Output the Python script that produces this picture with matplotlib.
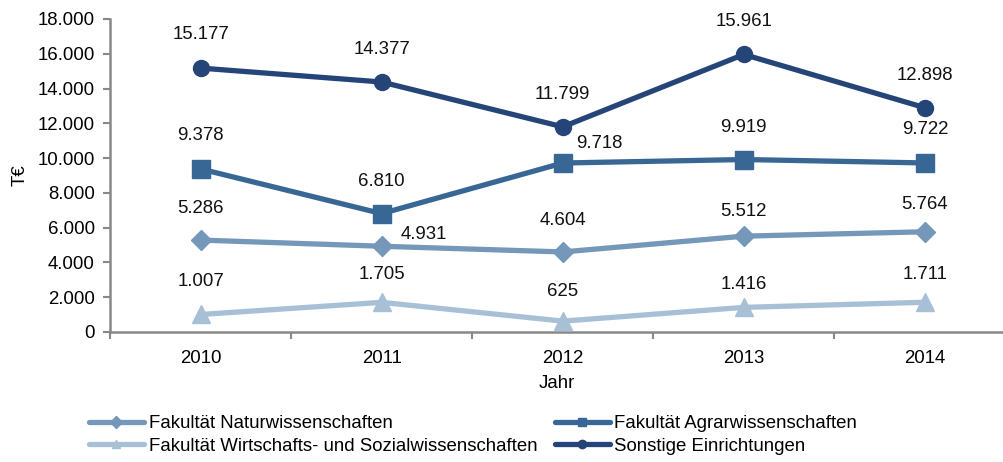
import matplotlib
matplotlib.use("Agg")
import matplotlib.pyplot as plt
from matplotlib.lines import Line2D
from matplotlib.ticker import FixedLocator, FuncFormatter

plt.rcParams['font.family'] = ['Liberation Sans', 'DejaVu Sans']

years = ["2010", "2011", "2012", "2013", "2014"]
natur = [5286, 4931, 4604, 5512, 5764]
agrar = [9378, 6810, 9718, 9919, 9722]
wiso = [1007, 1705, 625, 1416, 1711]
sonstige = [15177, 14377, 11799, 15961, 12898]

names = ["Fakultät Naturwissenschaften", "Fakultät Agrarwissenschaften",
         "Fakultät Wirtschafts- und Sozialwissenschaften", "Sonstige Einrichtungen"]

def fmt(v):
    return f"{v:,.0f}".replace(",", ".")

FS = 13.4
fig = plt.figure(figsize=(10.04, 4.62), dpi=100)
ax = fig.add_axes([110/1004, 130/462, (1004-110)/1004, (332-19)/462])
x = list(range(len(years)))

series = [
    (natur, "#7597BA", "D", 10, names[0]),
    (agrar, "#386795", "s", 13, names[1]),
    (wiso, "#A8C0D6", "^", 13, names[2]),
    (sonstige, "#254579", "o", 11.5, names[3]),
]
# label offsets in pixels (dx, dy, ha)
offsets = {
    0: [(0, 32, 'center'), (19, 12, 'left'), (0, 31, 'center'), (0, 25, 'center'), (0, 27, 'center')],
    1: [(0, 33, 'center'), (0, 32, 'center'), (13, 20, 'left'), (0, 32, 'center'), (0, 33, 'center')],
    2: [(0, 33, 'center'), (0, 28, 'center'), (0, 30, 'center'), (0, 23, 'center'), (0, 28, 'center')],
    3: [(0, 34, 'center'), (0, 32, 'center'), (0, 32, 'center'), (0, 33, 'center'), (0, 32, 'center')],
}
for i, (vals, col, mk, ms, nm) in enumerate(series):
    ax.plot(x, vals, color=col, lw=3.8, marker=mk, markersize=ms, zorder=3,
            solid_joinstyle='round', solid_capstyle='round')
    for j, v in enumerate(vals):
        dx, dy, ha = offsets[i][j]
        ax.annotate(fmt(v), (x[j], v), xytext=(dx, dy), textcoords='offset pixels',
                    ha=ha, va='center', fontsize=FS, color='#111111')

ax.set_xlim(-0.5, 4 + (1004-925)/181)
ax.set_ylim(0, 18000)
ax.set_yticks(range(0, 18001, 2000))
ax.yaxis.set_major_formatter(FuncFormatter(lambda v, p: fmt(v)))
ax.set_xticks(x)
ax.set_xticklabels(years)
ax.xaxis.set_minor_locator(FixedLocator([-0.5, 0.5, 1.5, 2.5, 3.5, 4.5]))
ax.tick_params(axis='x', which='major', length=0, pad=13, labelsize=FS)
ax.tick_params(axis='x', which='minor', length=5, width=1.5, color='#888888')
ax.tick_params(axis='y', length=5, width=1.5, color='#888888', labelsize=FS, pad=6)
for s in ['top', 'right']:
    ax.spines[s].set_visible(False)
for s in ['left', 'bottom']:
    ax.spines[s].set_color('#888888')
    ax.spines[s].set_linewidth(1.8)
ax.set_ylabel("T€", fontsize=FS, labelpad=6)
ax.set_xlabel("Jahr", fontsize=FS, labelpad=6)

handles = {}
for vals, col, mk, ms, nm in series:
    handles[nm] = Line2D([], [], color=col, lw=3.8, marker=mk, markersize=6,
                         solid_capstyle='round')
order = [names[0], names[2], names[1], names[3]]
fig.legend([handles[n] for n in order], order, loc='upper left',
           bbox_to_anchor=(89/1004, 1 - 415/462), ncol=2, frameon=False,
           fontsize=FS, handlelength=2.95, handletextpad=0.25, columnspacing=0.95,
           labelspacing=0.32, borderaxespad=0, borderpad=0)

fig.savefig("out.png", dpi=100)
